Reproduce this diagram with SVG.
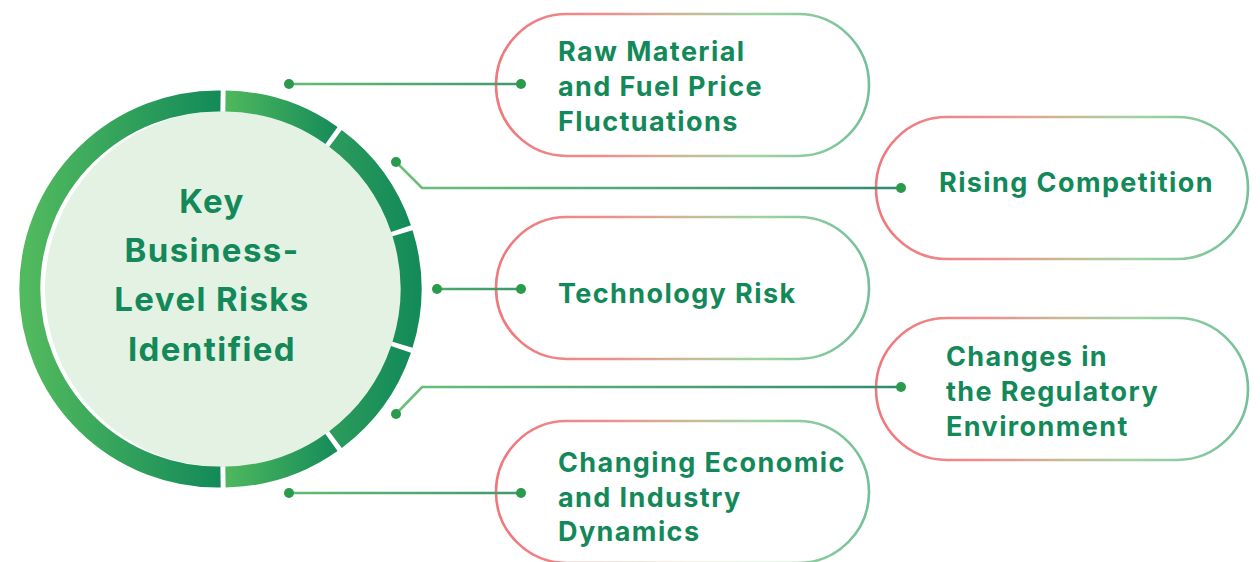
<svg xmlns="http://www.w3.org/2000/svg" width="1260" height="562" viewBox="0 0 1260 562">
<defs>
<style>
.pill{fill:#ffffff;stroke:url(#pillGrad);stroke-width:2.6}
.ring{fill:none;stroke-width:21}
.lbl{font-family:Inter,"Liberation Sans",sans-serif;font-weight:700;font-size:27px;letter-spacing:1.4px;fill:#13895a}
.ctr{font-family:Inter,"Liberation Sans",sans-serif;font-weight:700;font-size:33px;letter-spacing:1.4px;fill:#13895a;text-anchor:middle}
.con{fill:none;stroke-width:2.6}
.dot{fill:#2a9a4c}
</style>
<linearGradient id="pillGrad" x1="0" y1="0" x2="1" y2="0">
<stop offset="0" stop-color="#ef787c"/>
<stop offset="0.3" stop-color="#f08e8e"/>
<stop offset="0.5" stop-color="#cbb894"/>
<stop offset="0.7" stop-color="#9ed3a0"/>
<stop offset="1" stop-color="#74c09a"/>
</linearGradient>
<linearGradient id="gLeft" gradientUnits="userSpaceOnUse" x1="25" y1="0" x2="222" y2="0">
<stop offset="0" stop-color="#52ba5e"/><stop offset="1" stop-color="#128a59"/>
</linearGradient>
<linearGradient id="gS1" gradientUnits="userSpaceOnUse" x1="223" y1="0" x2="340" y2="0">
<stop offset="0" stop-color="#50b95e"/><stop offset="1" stop-color="#138a59"/>
</linearGradient>
<linearGradient id="gS2" gradientUnits="userSpaceOnUse" x1="327" y1="0" x2="412" y2="0">
<stop offset="0" stop-color="#2e9c5c"/><stop offset="1" stop-color="#128a59"/>
</linearGradient>
<linearGradient id="gS3" gradientUnits="userSpaceOnUse" x1="392" y1="0" x2="422" y2="0">
<stop offset="0" stop-color="#1b9058"/><stop offset="1" stop-color="#128a59"/>
</linearGradient>
<linearGradient id="gC1" gradientUnits="userSpaceOnUse" x1="289" y1="0" x2="521" y2="0">
<stop offset="0" stop-color="#64bb72"/><stop offset="1" stop-color="#3f9a6a"/>
</linearGradient>
<linearGradient id="gC2" gradientUnits="userSpaceOnUse" x1="396" y1="0" x2="901" y2="0">
<stop offset="0" stop-color="#6cc07a"/><stop offset="1" stop-color="#2f8c6c"/>
</linearGradient>
<linearGradient id="gC3" gradientUnits="userSpaceOnUse" x1="437" y1="0" x2="521" y2="0">
<stop offset="0" stop-color="#4ea96a"/><stop offset="1" stop-color="#3c976a"/>
</linearGradient>
</defs>
<rect width="1260" height="562" fill="#ffffff"/>

<g id="center">
<circle cx="223" cy="289" r="178" fill="#e4f2e4"/>
<path class="ring" stroke="url(#gLeft)" d="M220.54,476.98 A188,188 0 1 1 220.54,101.02"/>
<path class="ring" stroke="url(#gS1)" d="M225.46,101.02 A188,188 0 0 1 331.50,135.47"/>
<path class="ring" stroke="url(#gS2)" d="M335.48,138.36 A188,188 0 0 1 401.02,228.57"/>
<path class="ring" stroke="url(#gS3)" d="M402.54,233.25 A188,188 0 0 1 402.54,344.75"/>
<path class="ring" stroke="url(#gS2)" d="M401.02,349.43 A188,188 0 0 1 335.48,439.64"/>
<path class="ring" stroke="url(#gS1)" d="M331.50,442.53 A188,188 0 0 1 225.46,476.98"/>
<text class="ctr" x="212" y="213">Key</text>
<text class="ctr" x="212" y="262">Business-</text>
<text class="ctr" x="212" y="311">Level Risks</text>
<text class="ctr" x="212" y="361">Identified</text>
</g>

<g id="node1">
<rect class="pill" x="496" y="14" width="373" height="142" rx="71"/>
<text class="lbl" x="558" y="61">Raw Material</text>
<text class="lbl" x="558" y="96">and Fuel Price</text>
<text class="lbl" x="558" y="131">Fluctuations</text>
</g>
<g id="node2">
<rect class="pill" x="876" y="117" width="372" height="142" rx="71"/>
<text class="lbl" x="939" y="192">Rising Competition</text>
</g>
<g id="node3">
<rect class="pill" x="496" y="217" width="373" height="142" rx="71"/>
<text class="lbl" x="558" y="303">Technology Risk</text>
</g>
<g id="node4">
<rect class="pill" x="876" y="318" width="372" height="142" rx="71"/>
<text class="lbl" x="946" y="366">Changes in</text>
<text class="lbl" x="946" y="401">the Regulatory</text>
<text class="lbl" x="946" y="436">Environment</text>
</g>
<g id="node5">
<rect class="pill" x="496" y="421" width="373" height="142" rx="71"/>
<text class="lbl" x="558" y="472">Changing Economic</text>
<text class="lbl" x="558" y="507">and Industry</text>
<text class="lbl" x="558" y="541">Dynamics</text>
</g>

<g id="connectors">
<path class="con" stroke="url(#gC1)" d="M289,84 H521"/>
<path class="con" stroke="url(#gC2)" d="M396,162 L422,188 H901"/>
<path class="con" stroke="url(#gC3)" d="M437,289 H521"/>
<path class="con" stroke="url(#gC2)" d="M396,414 L422,387 H901"/>
<path class="con" stroke="url(#gC1)" d="M289,493 H521"/>
<circle class="dot" cx="289" cy="84" r="5"/>
<circle class="dot" cx="521" cy="84" r="5"/>
<circle class="dot" cx="396" cy="162" r="5"/>
<circle class="dot" cx="901" cy="188" r="5"/>
<circle class="dot" cx="437" cy="289" r="5"/>
<circle class="dot" cx="521" cy="289" r="5"/>
<circle class="dot" cx="396" cy="414" r="5"/>
<circle class="dot" cx="901" cy="387" r="5"/>
<circle class="dot" cx="289" cy="493" r="5"/>
<circle class="dot" cx="521" cy="493" r="5"/>
</g>
</svg>
